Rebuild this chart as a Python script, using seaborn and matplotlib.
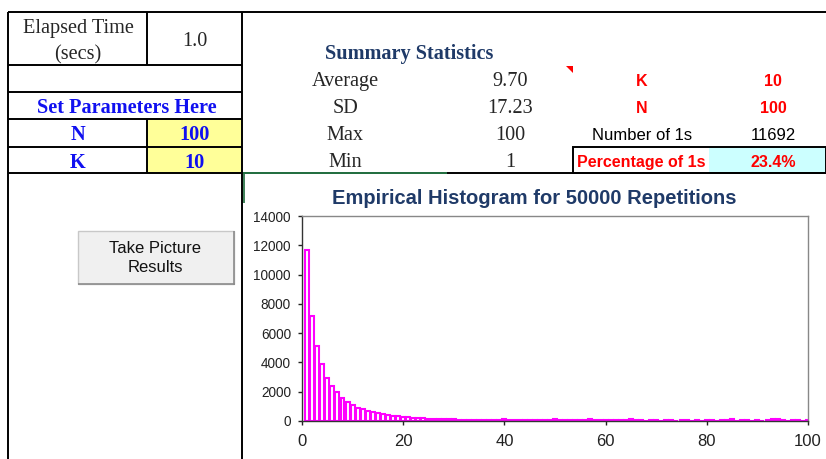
import matplotlib
matplotlib.use("Agg")
import matplotlib.pyplot as plt
from matplotlib.patches import Rectangle, Polygon
import seaborn as sns

# ---- simulation parameters and results ----
n_param = 100
k_param = 10
repetitions = 50000
elapsed_secs = 1.0
stat_labels = ["Average", "SD", "Max", "Min"]
stat_values = ["9.70", "17.23", "100", "1"]

# count of repetitions landing on each value 1..100
values = list(range(1, 101))
counts = [
    11692, 7150, 5140, 3870, 2915, 2410, 2000, 1590, 1320, 1070,
    920, 800, 700, 600, 520, 460, 400, 350, 310, 280,
    250, 230, 210, 190, 170, 155, 140, 130, 120, 110,
    100, 95, 90, 85, 80, 76, 72, 45, 42, 160,
    40, 38, 40, 37, 39, 36, 38, 37, 36, 150,
    37, 36, 38, 35, 37, 36, 150, 36, 35, 37,
    36, 35, 37, 36, 155, 35, 36, 34, 36, 35,
    34, 36, 35, 34, 35, 36, 34, 35, 34, 36,
    35, 34, 36, 35, 150, 34, 35, 36, 34, 35,
    34, 36, 150, 155, 35, 34, 36, 35, 34, 40,
]
y_ticks = [0, 2000, 4000, 6000, 8000, 10000, 12000, 14000]
x_ticks = [0, 20, 40, 60, 80, 100]

sns.set_style("ticks")
SERIF = ["Liberation Serif", "DejaVu Serif"]
SANS = ["Liberation Sans", "DejaVu Sans"]
plt.rcParams["font.family"] = SANS

W, H = 826, 459
fig = plt.figure(figsize=(W / 100, H / 100), dpi=100)
fig.patch.set_facecolor("white")

# sheet layer in pixel coordinates
sheet = fig.add_axes([0, 0, 1, 1])
sheet.set_xlim(0, W)
sheet.set_ylim(H, 0)
sheet.axis("off")

BLUE = "#1010f0"
NAVY = "#1f3a68"
RED = "#ff0000"
LW = 1.4
FS_SERIF = 14.6


def hline(y, x0, x1, color="black", lw=LW):
    sheet.plot([x0, x1], [y, y], color=color, lw=lw, solid_capstyle="butt")


def vline(x, y0, y1, color="black", lw=LW):
    sheet.plot([x, x], [y0, y1], color=color, lw=lw, solid_capstyle="butt")


# cell fills
sheet.add_patch(Rectangle((147, 119), 95, 54, facecolor="#ffff99", edgecolor="none"))
sheet.add_patch(Rectangle((709, 147), 117, 26, facecolor="#ccffff", edgecolor="none"))

# grid borders
hline(12, 8, W)
vline(8, 12, H)
vline(242, 12, H)
for y in [65, 92, 119, 147, 173]:
    hline(y, 8, 242)
vline(147, 12, 65)
vline(147, 119, 173)
hline(173, 447, W)
hline(173, 243, 447, color="#1e6b3c")
vline(243.5, 174, 203, color="#1e6b3c", lw=1.2)
sheet.add_patch(Rectangle((573, 147), 253, 26, facecolor="none", edgecolor="black", lw=LW))
sheet.add_patch(Polygon([(566, 66), (573, 66), (573, 73)], closed=True,
                        facecolor=RED, edgecolor="none"))

# left parameter block
serif = dict(family=SERIF, ha="center", va="baseline", fontsize=FS_SERIF)
sheet.text(78, 33, "Elapsed Time", **serif)
sheet.text(78, 59, "(secs)", **serif)
sheet.text(195, 46.5, f"{elapsed_secs:.1f}", **serif)
sheet.text(126.5, 113, "Set Parameters Here", fontweight="bold", color=BLUE, **serif)
sheet.text(78, 140, "N", fontweight="bold", color=BLUE, **serif)
sheet.text(195, 140, str(n_param), fontweight="bold", color=BLUE, **serif)
sheet.text(78, 167.5, "K", fontweight="bold", color=BLUE, **serif)
sheet.text(195, 167.5, str(k_param), fontweight="bold", color=BLUE, **serif)

# summary statistics block
sheet.text(409, 58.5, "Summary Statistics", fontweight="bold", color=NAVY, **serif)
for i, (lab, val) in enumerate(zip(stat_labels, stat_values)):
    yb = 86 + i * 27
    sheet.text(345, yb, lab, **serif)
    sheet.text(510, yb, val, **serif)

sans = dict(family=SANS, ha="center", va="baseline", fontsize=12)
bold = dict(family=SANS, ha="center", va="baseline", fontsize=11.5,
            fontweight="bold", color=RED)
ones = counts[0]
pct = ones / repetitions * 100
sheet.text(642, 86.5, "K", **bold)
sheet.text(773, 86.5, str(k_param), **bold)
sheet.text(642, 113, "N", **bold)
sheet.text(773, 113, str(n_param), **bold)
sheet.text(642, 140.5, "Number of 1s", color="black", **sans)
sheet.text(773, 140.5, str(ones), color="black", **sans)
sheet.text(641, 167, "Percentage of 1s", **bold)
sheet.text(773, 167, f"{pct:.1f}%", **bold)

# button
sheet.add_patch(Rectangle((78, 231), 156, 53, facecolor="#f0f0f0", edgecolor="#c8c8c8", lw=1.0))
hline(284, 78, 234.5, color="#8c8c8c", lw=1.2)
vline(234, 231, 284.5, color="#8c8c8c", lw=1.2)
sheet.text(155, 253, "Take Picture", color="#111111", **sans)
sheet.text(155, 272.5, "Results", color="#111111", **sans)

# chart title
sheet.text(534, 204, f"Empirical Histogram for {repetitions} Repetitions",
           family=SANS, fontsize=14.5, fontweight="bold", color=NAVY,
           ha="center", va="baseline")

# histogram
ax = fig.add_axes([302 / W, 1 - 421 / H, 506 / W, 205 / H])
sns.histplot(x=values, weights=counts, discrete=True, shrink=0.78,
             facecolor="white", edgecolor="#ff00ff", linewidth=1.5, alpha=1,
             ax=ax)
ax.set_xlim(0, 100)
ax.set_ylim(0, 14000)
ax.set_xticks(x_ticks)
ax.set_yticks(y_ticks)
ax.set_xticklabels([str(t) for t in x_ticks])
ax.set_yticklabels([str(t) for t in y_ticks])
ax.set_xlabel("")
ax.set_ylabel("")
ax.tick_params(axis="y", labelsize=9.8, length=3, width=1, pad=5, colors="#222222")
ax.tick_params(axis="x", labelsize=12, length=3, width=1, pad=6, colors="#222222")
ax.spines["left"].set_color("#333333")
ax.spines["bottom"].set_color("#333333")
ax.spines["top"].set_visible(True)
ax.spines["right"].set_visible(True)
ax.spines["top"].set_color("#888888")
ax.spines["right"].set_color("#888888")
for s in ax.spines.values():
    s.set_linewidth(1.0)

fig.savefig("out.png", dpi=100, facecolor="white")
